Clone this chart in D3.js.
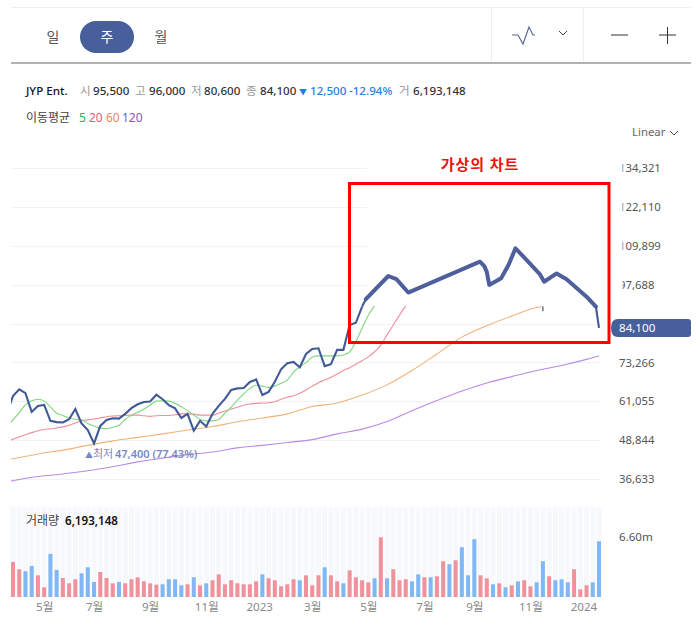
<!DOCTYPE html>
<html lang="ko">
<head>
<meta charset="utf-8">
<style>
  html, body { margin: 0; padding: 0; background: #fff; }
  svg { display: block; }
  text { font-family: "Noto Sans", "Noto Sans CJK KR", sans-serif; }
  .axis .domain, .axis line { display: none; }
</style>
<script src="https://cdn.jsdelivr.net/npm/d3@7"></script>
</head>
<body>
<svg id="chart" width="700" height="634"></svg>
<script>
// weekly closes, first entry is the week cut off at the left edge (week -1)
const closes = [57000, 62700, 64800, 63600, 57700, 59600, 59900, 54900, 54500, 54400, 55400, 58600, 54100, 52000, 47800,
  53300, 55200, 55700, 55600, 57100, 58900, 60100, 60800, 61000, 63100, 61700, 59800, 58800, 55800, 57100, 51800,
  54900, 53100, 57100, 59600, 61800, 64600, 65100, 65200, 67100, 67900, 63000, 64000, 67200, 71100, 73000, 73400,
  71700, 75900, 77500, 77700, 72100, 72700, 77200, 77200, 85000, 85700, 90800];

// hand drawn "virtual" part inside the red box
const sketchWeeks = [56.6, 60.2, 61.5, 63.4, 74.9, 75.6, 76.0, 76.4, 78.3, 79.5, 80.6, 82.4, 84.5, 85.2, 87.2, 88.8, 92.0, 93.5];
const sketchPrices = [93100, 100400, 99400, 95200, 104900, 103500, 101700, 97600, 99700, 103900, 109100, 105400, 101000, 98600, 101200, 99400, 93900, 90800];
const lastWeeks = [93.5, 94];
const lastPrices = [90800, 84100];

const ma5 = [53000, 55200, 57500, 59900, 61200, 61700, 61100, 59300, 57300, 56600, 55800, 55400, 55200, 54100, 53300, 52700,
  52400, 52900, 53500, 55400, 56600, 57600, 58600, 59900, 61100, 61200, 61100, 60400, 59300, 58100, 56700, 55400, 54900,
  54900, 55300, 57300, 59200, 61400, 63400, 65100, 66100, 65800, 65400, 65800, 66700, 67700, 70200, 71900, 73200, 74900,
  75300, 75300, 75300, 75300, 75600, 76600, 79800, 84000, 88100, 91000];
const ma20 = [48300, 49100, 49800, 50500, 51200, 51800, 52200, 52400, 52700, 53000, 53500, 54200, 54900, 55200, 55500, 55800,
  56200, 56400, 56500, 56600, 56700, 56700, 56500, 56300, 56500, 56600, 56600, 56800, 57100, 57100, 57000, 56700, 56700,
  56700, 57300, 58000, 58600, 59200, 59800, 60200, 60400, 60500, 60600, 60900, 61700, 62300, 62800, 63600, 64600, 65800,
  66900, 67700, 68600, 69600, 70700, 71600, 72700, 73800, 75000, 76600, 78700, 81900, 85000, 88100, 91000];
const ma60Weeks = [-1, 0, 4, 8, 12, 16, 20, 24, 28, 32, 36, 40, 44, 48, 52, 56, 60, 64, 68, 72, 76, 80, 84, 85];
const ma60 = [42700, 43000, 44500, 45700, 47200, 48600, 49700, 50800, 52000, 53100, 54600, 55800, 57100, 59400, 60500, 63000,
  66200, 70700, 75900, 81200, 84800, 87800, 90500, 90800];
const ma120Weeks = [-1, 0, 4, 8, 12, 16, 20, 24, 28, 32, 36, 40, 44, 48, 52, 56, 60, 64, 68, 72, 76, 80, 84, 88, 92, 94];
const ma120 = [35700, 36100, 37400, 38200, 39200, 40500, 42000, 43200, 44300, 45100, 46400, 47200, 48100, 49000, 50800, 52300,
  54700, 58100, 61300, 64300, 66800, 68800, 70700, 72300, 74200, 75300];

// volume in millions, u = up (red), d = down (blue)
const volumes = [3.90, 3.08, 2.86, 3.45, 2.41, 1.08, 4.79, 3.01, 2.11, 1.52, 1.97, 2.63, 3.30, 1.67, 2.78, 2.11, 1.52, 1.67, 1.52,
  1.97, 2.19, 1.74, 1.52, 1.37, 1.41, 1.97, 1.97, 1.30, 1.41, 2.19, 1.30, 1.52, 1.86, 2.52, 1.41, 1.86, 1.52, 1.41, 1.41, 1.74,
  2.52, 2.08, 1.86, 1.19, 1.41, 1.97, 1.86, 2.41, 1.30, 2.41, 3.30, 2.41, 1.74, 1.52, 2.97, 2.19, 1.86, 1.63, 2.08, 6.64, 2.08,
  3.08, 1.86, 1.97, 1.74, 2.52, 2.19, 2.19, 2.30, 3.97, 3.64, 4.08, 5.53, 2.41, 6.42, 2.41, 2.08, 1.41, 1.52, 1.08, 1.30, 1.74,
  1.86, 1.19, 1.63, 3.97, 2.30, 1.86, 1.97, 1.63, 3.08, 0.85, 1.30, 1.63, 6.19];
const volumeDirs = ['uuddu', 'udduu', 'udddu', 'uuduu', 'uuuud', 'dddud', 'uduuu', 'uuuuu', 'duuuu', 'uduuu', 'duudu',
  'uuudu', 'duuud', 'duduu', 'duddd', 'uudud', 'uduud', 'duddd', 'uuudd'].join('');

const priceTicks = [134321, 122110, 109899, 97688, 85477, 73266, 61055, 48844, 36633];
const monthWeeks = [5, 13, 22, 31, 39.5, 48, 57, 66, 74, 83, 91.5];
const monthLabels = ['5월', '7월', '9월', '11월', '2023', '3월', '5월', '7월', '9월', '11월', '2024'];

const svg = d3.select('#chart');
const blue = '#3f5a96';
const digits = 11.6;

const x = d3.scaleLinear().domain([0, 94]).range([13, 599]);
const y = d3.scaleLinear().domain([36633, 134321]).range([479, 168]);
const yVol = d3.scaleLinear().domain([0, 6.6]).range([597, 537.6]);

svg.append('defs').append('clipPath').attr('id', 'plot')
  .append('rect').attr('x', 11).attr('y', 140).attr('width', 600).attr('height', 360);

// toolbar
const bar = svg.append('g');
bar.append('line').attr('x1', 11).attr('x2', 691).attr('y1', 7.5).attr('y2', 7.5).attr('stroke', '#eeeeee');
bar.append('line').attr('x1', 11).attr('x2', 691).attr('y1', 63).attr('y2', 63).attr('stroke', '#62666c').attr('stroke-width', 1.2);
[491.5, 583.5].forEach(v => bar.append('line').attr('x1', v).attr('x2', v).attr('y1', 8).attr('y2', 62).attr('stroke', '#eeeeee'));
bar.append('rect').attr('x', 80).attr('y', 21).attr('width', 54).attr('height', 32).attr('rx', 16).attr('fill', '#47609c');
[['일', 53, '#555'], ['주', 107, '#fff'], ['월', 161, '#555']].forEach(([t, px, c]) => {
  bar.append('text').attr('x', px).attr('y', 42).attr('text-anchor', 'middle').attr('font-size', 14).attr('fill', c).text(t);
});
bar.append('path').attr('d', 'M512 35H518L523 44L529 27L533 35H535').attr('fill', 'none').attr('stroke', '#5a6a98').attr('stroke-width', 1.2);
bar.append('path').attr('d', 'M559 31L563 35L567 31').attr('fill', 'none').attr('stroke', '#444').attr('stroke-width', 1);
bar.append('path').attr('d', 'M611 35H628M659 35H676M667.5 27V44').attr('fill', 'none').attr('stroke', '#333').attr('stroke-width', 1);

// quote line
const quote = [
  ['JYP Ent.', 26, '#111', 500], ['시', 80, '#999', 400], ['95,500', 93, '#333', 500], ['고', 135, '#999', 400],
  ['96,000', 149, '#333', 500], ['저', 191, '#999', 400], ['80,600', 204, '#333', 500], ['종', 246, '#999', 400],
  ['84,100', 260, '#333', 500], ['▼', 299, '#1e7fe0', 400], ['12,500', 310, '#2a7de1', 500], ['-12.94%', 349, '#2a7de1', 500],
  ['거', 399, '#999', 400], ['6,193,148', 413, '#333', 500]
];
quote.forEach(([t, px, c, w]) => {
  svg.append('text').attr('x', px).attr('y', 95).attr('font-size', t === '▼' ? 8 : digits).attr('font-weight', w).attr('fill', c).text(t);
});
[['이동평균', 26, '#444'], ['5', 79, '#22b34a'], ['20', 89, '#e85a78'], ['60', 106, '#ee8a4a'], ['120', 122, '#8a4fd8']].forEach(([t, px, c]) => {
  svg.append('text').attr('x', px).attr('y', 122).attr('font-size', 12).attr('fill', c).text(t);
});
svg.append('text').attr('x', 632).attr('y', 136).attr('font-size', 11.4).attr('fill', '#666').text('Linear');
svg.append('path').attr('d', 'M670 131L674 135L678 131').attr('fill', 'none').attr('stroke', '#555');

// grid, upper lines stop where the original was painted over
svg.append('g').selectAll('line').data(priceTicks).join('line')
  .attr('x1', 11)
  .attr('x2', d => d > 90000 ? 367 : 600)
  .attr('y1', d => Math.round(y(d)) + 0.5)
  .attr('y2', d => Math.round(y(d)) + 0.5)
  .attr('stroke', '#f0f2f6');

// price axis
svg.append('g').attr('class', 'axis').attr('transform', 'translate(619,0)')
  .call(d3.axisRight(y).tickValues(priceTicks).tickSize(0).tickPadding(0).tickFormat(d3.format(',')))
  .call(g => g.selectAll('text').attr('font-size', 11.3).attr('fill', '#555'));
svg.append('rect').attr('x', 612).attr('y', 160).attr('width', 10.5).attr('height', 134).attr('fill', '#fff');

// price lines
const line = d3.line().x(d => x(d[0])).y(d => y(d[1]));
const smooth = d3.line().x(d => x(d[0])).y(d => y(d[1])).curve(d3.curveMonotoneX);
const plot = svg.append('g').attr('clip-path', 'url(#plot)');
const withWeeks = (values, first) => values.map((v, i) => [first + i, v]);
const zip = (weeks, values) => weeks.map((w, i) => [w, values[i]]);
const maLines = [
  [zip(ma120Weeks, ma120), '#b98ae6'],
  [zip(ma60Weeks, ma60), '#f2b27a'],
  [withWeeks(ma20, -1), '#ee8f98'],
  [withWeeks(ma5, -1), '#7ed77e']
];
plot.selectAll('path.ma').data(maLines).join('path').attr('class', 'ma')
  .attr('d', d => smooth(d[0])).attr('fill', 'none').attr('stroke', d => d[1]).attr('stroke-width', 1.1);
// leftover tick of the original candle at the end of the orange line
plot.append('path').datum([[85, 90800], [85, 89300]]).attr('d', line).attr('fill', 'none').attr('stroke', '#5a6ea6').attr('stroke-width', 1.4);
plot.append('path').datum(withWeeks(closes, -1)).attr('d', line).attr('fill', 'none').attr('stroke', blue).attr('stroke-width', 2.1);
plot.append('path').datum([[56, 90800], [56.6, 93100]]).attr('d', line).attr('fill', 'none').attr('stroke', blue).attr('stroke-width', 2.1);
plot.append('path').datum(zip(sketchWeeks, sketchPrices)).attr('d', line).attr('fill', 'none').attr('stroke', '#4f5f9c')
  .attr('stroke-width', 4).attr('stroke-linejoin', 'round').attr('stroke-linecap', 'round');
plot.append('path').datum(zip(lastWeeks, lastPrices)).attr('d', line).attr('fill', 'none').attr('stroke', blue).attr('stroke-width', 2.1);

// lowest price note
const lowG = svg.append('g').attr('fill', '#7a88c4').attr('font-size', 11);
lowG.append('text').attr('x', 85).attr('y', 458).attr('font-size', 8).text('▲');
lowG.append('text').attr('x', 93).attr('y', 458).text('최저');
lowG.append('text').attr('x', 115).attr('y', 458).attr('font-weight', 600).text('47,400 (77.43%)');

// red box and title
svg.append('rect').attr('x', 349.5).attr('y', 183.5).attr('width', 259.5).attr('height', 159)
  .attr('fill', 'none').attr('stroke', '#ff0000').attr('stroke-width', 3);
svg.append('text').attr('x', 480).attr('y', 170).attr('text-anchor', 'middle').attr('font-size', 15).attr('letter-spacing', 0.9).attr('font-weight', 700)
  .attr('fill', '#f01010').text('가상의 차트');

// current price badge
svg.append('path').attr('d', 'M618 319H688Q691 319 691 322V334Q691 337 688 337H618Q611 337 611 328Q611 319 618 319Z').attr('fill', '#47609c');
svg.append('text').attr('x', 619).attr('y', y(84100) + 4.5).attr('font-size', 11.6).attr('fill', '#fff').text('84,100');

// volume
const barW = 4;
svg.append('g').selectAll('rect').data(volumes).join('rect')
  .attr('x', (d, i) => x(i) - 2.5).attr('width', 5)
  .attr('y', 507).attr('height', 90).attr('fill', '#f6f8fc');
svg.append('g').selectAll('rect').data(volumes).join('rect')
  .attr('x', (d, i) => x(i) - barW / 2).attr('width', barW)
  .attr('y', d => yVol(d)).attr('height', d => yVol(0) - yVol(d))
  .attr('fill', (d, i) => volumeDirs[i] === 'u' ? '#f0929b' : '#7fb8f2');

svg.append('text').attr('x', 26).attr('y', 525).attr('font-size', 12).attr('fill', '#444').text('거래량');
svg.append('text').attr('x', 65).attr('y', 525).attr('font-size', 11.6).attr('font-weight', 600).attr('fill', '#111').text('6,193,148');
svg.append('text').attr('x', 619).attr('y', 541).attr('font-size', 11.6).attr('fill', '#555').text('6.60m');

// month axis
svg.append('g').attr('class', 'axis').attr('transform', 'translate(0,603)')
  .call(d3.axisBottom(x).tickValues(monthWeeks).tickSize(0).tickPadding(0).tickFormat((d, i) => monthLabels[i]))
  .call(g => g.selectAll('text').attr('font-size', 11.6).attr('fill', '#8a8a8a').attr('dy', '0.71em'));
</script>
</body>
</html>
